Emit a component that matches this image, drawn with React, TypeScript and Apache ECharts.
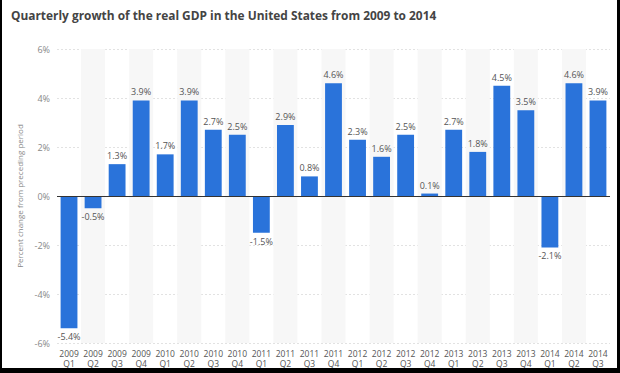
import React, { useEffect, useRef } from "react";
import * as echarts from "echarts";

const years = [
  "2009", "2009", "2009", "2009",
  "2010", "2010", "2010", "2010",
  "2011", "2011", "2011", "2011",
  "2012", "2012", "2012", "2012",
  "2013", "2013", "2013", "2013",
  "2014", "2014", "2014",
];
const quarters = [
  "Q1", "Q2", "Q3", "Q4",
  "Q1", "Q2", "Q3", "Q4",
  "Q1", "Q2", "Q3", "Q4",
  "Q1", "Q2", "Q3", "Q4",
  "Q1", "Q2", "Q3", "Q4",
  "Q1", "Q2", "Q3",
];
const growth = [
  -5.4, -0.5, 1.3, 3.9,
  1.7, 3.9, 2.7, 2.5,
  -1.5, 2.9, 0.8, 4.6,
  2.3, 1.6, 2.5, 0.1,
  2.7, 1.8, 4.5, 3.5,
  -2.1, 4.6, 3.9,
];
const yTicks = { min: -6, max: 6, interval: 2 };
const title = "Quarterly growth of the real GDP in the United States from 2009 to 2014";
const yName = "Percent change from preceding period";

export default function App() {
  const ref = useRef<HTMLDivElement>(null);
  useEffect(() => {
    if (!ref.current) return;
    const chart = echarts.init(ref.current, null, { renderer: "svg" });
    const font = "'Open Sans', 'Noto Sans', sans-serif";
    const labelStyle = { interval: 0, fontFamily: font, fontSize: 8.5, color: "#555" };
    chart.setOption({
      animation: false,
      backgroundColor: "#ffffff",
      title: {
        text: title,
        left: 6,
        top: 4,
        textStyle: { fontFamily: font, fontWeight: "bold", fontSize: 11.9, color: "#444" },
      },
      grid: { left: 57, right: 10, top: 49, bottom: 30 },
      xAxis: [
        {
          type: "category",
          data: years,
          axisLine: { show: false },
          axisTick: { show: false },
          axisLabel: { ...labelStyle, margin: 6 },
          splitArea: { show: true, areaStyle: { color: ["rgba(255,255,255,0)", "#f7f7f7"] } },
        },
        {
          type: "category",
          data: quarters,
          position: "bottom",
          offset: 9.5,
          axisLine: { show: false },
          axisTick: { show: false },
          axisLabel: { ...labelStyle, margin: 6 },
        },
      ],
      yAxis: {
        type: "value",
        min: yTicks.min,
        max: yTicks.max,
        interval: yTicks.interval,
        name: yName,
        nameLocation: "middle",
        nameGap: 32,
        nameTextStyle: { fontFamily: font, fontSize: 8, color: "#888" },
        axisLine: { show: false },
        axisTick: { show: false },
        axisLabel: { formatter: "{value}%", fontFamily: font, fontSize: 9, color: "#888", margin: 7 },
        splitLine: { lineStyle: { color: "#e2e2e2", type: [2, 2] } },
      },
      series: [
        {
          type: "bar",
          xAxisIndex: 0,
          data: growth.map((v) => ({
            value: v,
            label: { position: v < 0 ? "bottom" : "top" },
          })),
          barWidth: "70%",
          itemStyle: { color: "#2a73da" },
          label: {
            show: true,
            formatter: (p: any) => `${p.value}%`,
            fontFamily: font,
            fontSize: 9,
            color: "#555",
            distance: 4,
          },
          markLine: {
            silent: true,
            symbol: "none",
            label: { show: false },
            lineStyle: { color: "#333", width: 1, type: "solid" },
            data: [{ yAxis: 0 }],
          },
        },
      ],
    });
    return () => chart.dispose();
  }, []);
  const bar = (s: React.CSSProperties): React.CSSProperties => ({
    position: "absolute",
    background: "#000",
    ...s,
  });
  return (
    <div style={{ width: 620, height: 373, position: "absolute", left: 0, top: 0, overflow: "hidden" }}>
      <div ref={ref} style={{ position: "absolute", left: 0, top: 0, width: 620, height: 373 }} />
      <div style={bar({ left: 0, top: 0, width: 2, height: 373 })} />
      <div style={bar({ left: 617, top: 0, width: 3, height: 373 })} />
      <div style={bar({ left: 0, top: 368, width: 620, height: 5 })} />
    </div>
  );
}
